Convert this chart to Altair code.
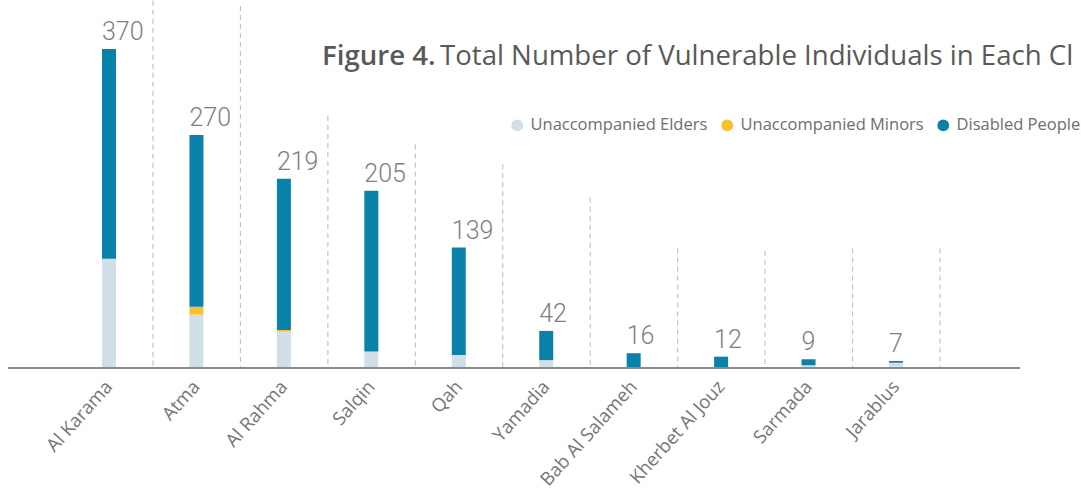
import altair as alt
import pandas as pd

# ---- data ----
camps = ["Al Karama", "Atma", "Al Rahma", "Salqin", "Qah", "Yamadia",
         "Bab Al Salameh", "Kherbet Al Jouz", "Sarmada", "Jarablus"]
elders = [126, 61, 41, 18, 14, 8, 0, 0, 2, 5]
minors = [0, 9, 2, 0, 0, 0, 0, 0, 0, 0]
disabled = [244, 200, 176, 187, 125, 34, 16, 12, 7, 2]
totals = [370, 270, 219, 205, 139, 42, 16, 12, 9, 7]
# top of the dashed separator that follows each camp (in value units)
separator_tops = [426, 420, 292, 259, 236, 197, 138, 135, 138, 138]

series = ["Unaccompanied Elders", "Unaccompanied Minors", "Disabled People"]
series_colors = ["#d1dfe6", "#fbbf2c", "#0a81a8"]

# the title as it is visible in the reference (cut at the right edge there)
title_bold = "Figure 4."
title_rest = "Total Number of Vulnerable Individuals in Each Cl"

# ---- tables ----
rows = []
for i, c in enumerate(camps):
    for k, (s, vals) in enumerate(zip(series, [elders, minors, disabled])):
        rows.append({"camp": c, "series": s, "value": vals[i], "ord": k})
df = pd.DataFrame(rows)
tot = pd.DataFrame({"camp": camps, "total": totals, "sep": separator_tops})

W, H = 1012, 367
ymax = 427

xscale = alt.Scale(domain=camps, range=[94, 895], paddingInner=0.84, paddingOuter=0)
yscale = alt.Scale(domain=[0, ymax], nice=False, zero=True)

xenc = alt.X("camp:N", scale=xscale, sort=camps,
             axis=alt.Axis(title=None, labelAngle=-48, ticks=False, domain=False,
                           labelFont="Open Sans", labelFontSize=18.5,
                           labelColor="#767676", labelPadding=16))

baseline = alt.Chart(tot).mark_rule(color="#8a8a8a", strokeWidth=1.5).encode(
    x=alt.value(0), x2=alt.value(W), y=alt.value(H + 1))

seps = alt.Chart(tot).mark_rule(color="#c4c4c4", strokeDash=[5, 4], strokeWidth=1.2, xOffset=44).encode(
    x=xenc,
    y=alt.Y("sep:Q", scale=yscale, axis=None),
    y2=alt.datum(0),
)

bars = alt.Chart(df).mark_bar().encode(
    x=xenc,
    y=alt.Y("value:Q", scale=yscale, axis=None, stack="zero"),
    color=alt.Color("series:N", sort=series,
                    scale=alt.Scale(domain=series, range=series_colors),
                    legend=alt.Legend(title=None, orient="none", direction="horizontal",
                                      legendX=501, legendY=117, symbolType="circle",
                                      symbolSize=140, symbolStrokeWidth=0,
                                      labelFont="Open Sans", labelFontSize=16.5,
                                      labelColor="#6e6e6e", labelOffset=5, labelLimit=0,
                                      columnPadding=11)),
    order=alt.Order("ord:Q", sort="ascending"),
)

labels = alt.Chart(tot).mark_text(align="left", baseline="alphabetic", dx=-7, dy=-9,
                                  font="Roboto", fontWeight=300, fontSize=25,
                                  color="#7f7f7f").encode(
    x=xenc,
    y=alt.Y("total:Q", scale=yscale, axis=None),
    text="total:Q",
)

t1 = alt.Chart(pd.DataFrame({"t": [title_bold]})).mark_text(
    align="left", baseline="alphabetic", font="Open Sans", fontWeight=600,
    fontSize=27.6, color="#595959").encode(text="t:N", x=alt.value(314), y=alt.value(65))
t2 = alt.Chart(pd.DataFrame({"t": [title_rest]})).mark_text(
    align="left", baseline="alphabetic", font="Open Sans", fontWeight=400,
    fontSize=27.6, color="#595959").encode(text="t:N", x=alt.value(432), y=alt.value(65))

chart = alt.layer(seps, baseline, bars, labels, t1, t2).properties(
    width=W, height=H,
    autosize=alt.AutoSizeParams(type="none"),
    padding={"left": 8, "top": 0, "right": 61, "bottom": 128},
).configure_view(stroke=None)

chart.save("out.html", embed_options={"renderer": "svg", "actions": False})
